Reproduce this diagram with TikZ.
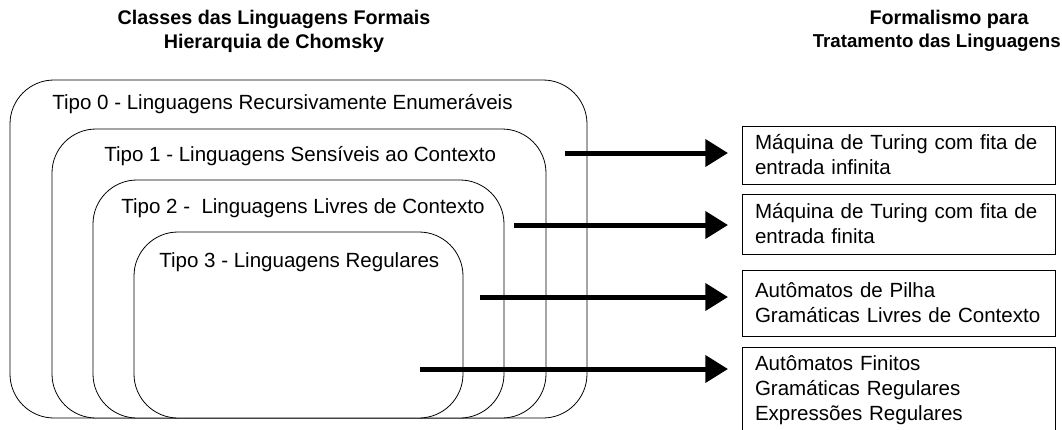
\documentclass[tikz,border=0pt]{standalone}
\usepackage{fontspec}
\setmainfont{Liberation Sans}
\usetikzlibrary{arrows.meta}
\begin{document}
\begin{tikzpicture}[x=0.75pt,y=-0.75pt,
  lang/.style={draw=black, line width=0.6pt, rounded corners=33pt, fill=white, anchor=north west, inner sep=0pt, outer sep=0pt},
  lbl/.style={anchor=west, inner sep=0pt, font=\fontsize{15.4pt}{18.75pt}\selectfont},
  form/.style={draw=black, line width=0.6pt, anchor=north west, align=left, inner xsep=9.75pt, inner ysep=0pt, text width=215.25pt, outer sep=0pt, font=\fontsize{15.4pt}{18.75pt}\selectfont},
  ttl/.style={align=center, inner sep=0pt, font=\bfseries\fontsize{14.8pt}{18pt}\selectfont},
  arr/.style={line width=3.75pt, -{Triangle[length=17pt,width=20pt]}, shorten >=10.5pt}]
\useasboundingbox (0,0) rectangle (1062,429);
\fill[white] (0,0) rectangle (1062,429);
% titles
\node (h1) [ttl] at (274,31) {Classes das Linguagens Formais\\Hierarquia de Chomsky};
\node (h2a) [ttl] at (949,19) {Formalismo para};
\node (h2b) [ttl, font=\bfseries\fontsize{14pt}{18pt}\selectfont, anchor=east] at (1061,43) {Tratamento das Linguagens};
% nested language classes
\node (t0) [lang, minimum width=432.75pt, minimum height=253.5pt] at (10,80) {};
\node (t1) [lang, minimum width=370.5pt, minimum height=216.75pt] at (52,129) {};
\node (t2) [lang, minimum width=308.25pt, minimum height=178.5pt] at (93,180) {};
\node (t3) [lang, minimum width=246.75pt, minimum height=139.5pt] at (134,232) {};
\node (l0) [lbl] at (52,104) {Tipo 0 - Linguagens Recursivamente Enumeráveis};
\node (l1) [lbl] at (104,156) {Tipo 1 - Linguagens Sensíveis ao Contexto};
\node (l2) [lbl] at (121,208) {Tipo 2 -\ \ Linguagens Livres de Contexto};
\node (l3) [lbl] at (159,262) {Tipo 3 - Linguagens Regulares};
% formalisms
\node (m1) [form, minimum height=43.5pt] at (742,126) {Máquina de Turing com fita de\\entrada infinita};
\node (m2) [form, minimum height=45pt] at (742,194) {Máquina de Turing com fita de\\entrada finita};
\node (m3) [form, minimum height=49.5pt] at (742,270) {Autômatos de Pilha\\Gramáticas Livres de Contexto};
\node (m4) [form, minimum height=64.5pt] at (742,347) {Autômatos Finitos\\Gramáticas Regulares\\Expressões Regulares};
% arrows
\coordinate (s0) at (565,153);
\coordinate (s1) at (514,225);
\coordinate (s2) at (480,297);
\coordinate (s3) at (420,369);
\draw[arr] (s0) -- (s0 -| m1.west);
\draw[arr] (s1) -- (s1 -| m2.west);
\draw[arr] (s2) -- (s2 -| m3.west);
\draw[arr] (s3) -- (s3 -| m4.west);
\end{tikzpicture}
\end{document}
